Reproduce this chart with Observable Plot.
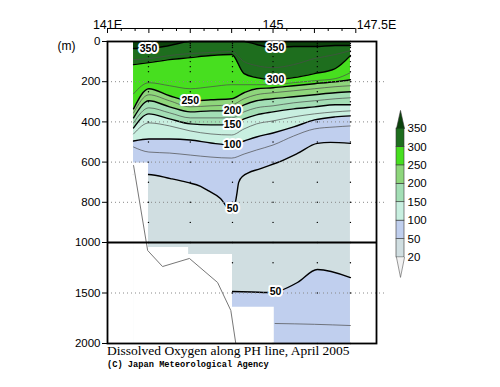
<!DOCTYPE html>
<html><head><meta charset="utf-8">
<script src="https://cdn.jsdelivr.net/npm/d3@7"></script>
<script src="https://cdn.jsdelivr.net/npm/@observablehq/plot@0.6"></script>
<style>
body{margin:0;background:#fff;}
#wrap{position:relative;width:500px;height:387px;overflow:hidden;background:#fff;}
#wrap svg{position:absolute;left:0;top:0;}
.title{position:absolute;left:107px;top:343px;font-family:"Liberation Serif",serif;font-size:13.5px;line-height:15px;white-space:nowrap;color:#000;}
.caption{position:absolute;left:107px;top:360px;font-family:"Liberation Mono",monospace;font-weight:bold;font-size:8.7px;line-height:11px;white-space:nowrap;color:#000;}
</style></head>
<body><div id="wrap"></div>
<script>
// ---- data ----
const levels = [20, 50, 100, 150, 200, 250, 300, 350];
// <20, 20-50, 50-100, 100-150, 150-200, 200-250, 250-300, 300-350, >350
const bandColors = ["#f2f2f2","#d0dee1","#c0cfee","#c8efe0","#a3deb5","#8ed67b","#47df1f","#1e6e1e","#0c420c"];

const sampleLon = [141.63,142.0,142.5,143.0,143.5,144.0,144.3,144.6,145.0,145.5,146.0,146.5,146.87];
const iso350 = [35,35,20,0,0,0,0,15,30,25,25,20,20];
const iso325 = [90,85,70,60,55,50,100,120,130,115,85,65,45];
const iso300 = [115,105,90,80,70,65,160,180,190,180,160,135,70];
const iso275 = [260,205,220,235,225,215,215,215,215,205,195,185,155];
const iso250 = [335,235,270,295,290,285,255,235,230,220,210,200,190];
const iso225 = [355,265,295,325,320,315,285,265,255,245,235,225,220];
const iso200 = [380,295,325,350,345,345,315,295,285,275,265,255,250];
const iso175 = [405,330,355,380,380,380,350,330,320,305,295,285,280];
const iso150 = [430,360,385,410,415,415,385,365,350,335,325,315,315];
const iso125 = [460,405,420,445,460,465,435,410,395,375,360,350,345];
const iso100 = [495,485,485,490,505,515,495,475,455,425,390,375,370];
const iso75  = [525,550,555,565,575,580,560,540,515,470,435,425,420];

const lon50 = [141.63,141.99,142.52,142.93,143.25,143.42,143.73,144.02,144.12,144.17,144.26,144.70,145.11,145.59,146.07,146.39,146.87];
const iso50 = [662,662,682,701,721,741,781,851,766,701,672,632,602,557,507,502,507];

const deepLon = [144.02,144.5,145.0,145.15,145.59,146.07,146.87];
const deep50 = [1485,1490,1495,1480,1396,1267,1347];
const deep75Lon = [145.05,146.0,146.87];
const deep75 = [1802,1810,1822];

// data coverage (bottom of observations, step)
const maskLon = [141.63,141.99,142.96,144.02,145.03,146.87];
const maskBottom = [605,1050,1120,1640,2000,2000];
const dataLonMin = 141.63, dataLonMax = 146.87;

// bottom topography
const topoLon = [141.63,141.97,142.33,142.98,143.66,143.98,144.10];
const topoDepth = [617,1079,1238,1158,1396,1673,2000];

// stations and standard depths
const stationLon = [141.99,143.0,144.02,145.0,146.07,146.87];
const stationBottom = [1050,1120,1640,2000,2000,2000];
const stdDepths = [0,10,20,30,50,75,100,125,150,200,250,300,400,500,600,700,800,900,1000,1200,1500,2000];

// contour labels
const labelLon = [141.99,145.06,145.06,143.0,144.02,144.02,144.02,144.02,145.06];
const labelDepth = [35,30,190,295,345,415,515,830,1490];
const labelText = ["350","350","300","250","200","150","100","50","50"];

// axes
const yTicks = [0,200,400,600,800,1000,1500,2000];
const gridDepths = [200,400,600,800,1500];
const topMajor = [141,142,143,144,145,146,147];
const topMinor = [141.333,141.667,142.333,142.667,143.333,143.667,144.333,144.667,145.333,145.667,146.333,146.667];
const topLabelLon = [141,145,147.5];
const topLabelText = ["141E","145","147.5E"];

// ---- build ----
const rows = (lons, ds) => lons.map((lon,i)=>({lon, depth: ds[i]}));
const curve = "monotone-x";
const paint = [
  [rows(lon50, iso50), bandColors[2]],
  [rows(sampleLon, iso100), bandColors[3]],
  [rows(sampleLon, iso150), bandColors[4]],
  [rows(sampleLon, iso200), bandColors[5]],
  [rows(sampleLon, iso250), bandColors[6]],
  [rows(sampleLon, iso300), bandColors[7]],
  [rows(sampleLon, iso350), bandColors[8]]
];
const thick = [rows(lon50, iso50), rows(sampleLon, iso100), rows(sampleLon, iso150), rows(sampleLon, iso200), rows(sampleLon, iso250), rows(sampleLon, iso300), rows(sampleLon, iso350), rows(deepLon, deep50)];
const thin = [rows(sampleLon, iso75), rows(sampleLon, iso125), rows(sampleLon, iso175), rows(sampleLon, iso225), rows(sampleLon, iso275), rows(sampleLon, iso325), rows(deep75Lon, deep75)];

const dots = [];
stationLon.forEach((lon,i)=>stdDepths.forEach(d=>{ if (d <= stationBottom[i]) dots.push({lon, depth:d}); }));

const marks = [
  Plot.rect([0], {x1: dataLonMin, x2: dataLonMax, y1: 0, y2: 2000, fill: bandColors[1]}),
  Plot.areaY(rows(deepLon, deep50), {x:"lon", y1:"depth", y2: 2000, fill: bandColors[2], curve}),
  ...paint.map(([d,c]) => Plot.areaY(d, {x:"lon", y1: 0, y2:"depth", fill: c, curve})),
  ...thin.map(d => Plot.line(d, {x:"lon", y:"depth", stroke:"#4a4a4a", strokeWidth:0.7, curve})),
  ...thick.map(d => Plot.line(d, {x:"lon", y:"depth", stroke:"#000", strokeWidth:1.4, curve})),
  Plot.areaY(rows(maskLon, maskBottom), {x:"lon", y1:"depth", y2: 2000, fill:"#fff", curve:"step-after"}),
  Plot.line(rows(topoLon, topoDepth), {x:"lon", y:"depth", stroke:"#777", strokeWidth:1}),
  Plot.ruleY(gridDepths, {x1: 141, x2: 147.72, stroke:"#888", strokeWidth:1, strokeDasharray:"1,3"}),
  Plot.dot(dots, {x:"lon", y:"depth", r:0.7, fill:"#000"}),
  Plot.ruleY([1000], {stroke:"#000", strokeWidth:1.8}),
  Plot.frame({stroke:"#000", strokeWidth:1.8}),
  Plot.text(labelText, {x:(d,i)=>labelLon[i], y:(d,i)=>labelDepth[i], text:d=>d, fill:"#000", stroke:"#fff", strokeWidth:4, fontSize:10.5, fontWeight:"bold"}),
  // top axis
  Plot.ruleY([0], {x1: 141, x2: 147, dy: -13, stroke:"#000", strokeWidth:1}),
  Plot.ruleX(topMajor, {insetBottom: 297, dy: -13, stroke:"#000"}),
  Plot.ruleX(topMinor, {insetBottom: 299, dy: -13, stroke:"#000"}),
  Plot.text(topLabelLon, {x: d=>d, text:(d,i)=>topLabelText[i], frameAnchor:"top", dy:-21, fontSize:12.5}),
  Plot.text(["(m)"], {frameAnchor:"top-left", dx:-41, text:d=>d, textAnchor:"middle", fontSize:12})
];

const chart = Plot.plot({
  width: 500, height: 387,
  marginLeft: 107, marginRight: 124, marginTop: 41, marginBottom: 44,
  style: {fontFamily: "Liberation Sans, Arial, sans-serif", fontSize: "11.5px", color:"#000", background:"transparent"},
  x: {type: "linear", domain: [141, 147.5], axis: null},
  y: {type: "linear", domain: [0, 1000, 2000], range: [41, 242, 343], ticks: yTicks, tickFormat: d => String(d), tickSize: 5, tickPadding: 2, label: null},
  marks
});

// legend
const topTri = [{x:0,y:7},{x:0.5,y:7.98},{x:1,y:7}];
const botTri = [{x:0,y:0},{x:0.5,y:-1.08},{x:1,y:0}];
const legend = Plot.plot({
  width: 500, height: 387, margin: 0,
  style: {fontFamily: "Liberation Sans, Arial, sans-serif", fontSize: "11.5px", color:"#000", background:"transparent"},
  x: {type: "linear", domain: [0, 1], range: [396, 404], axis: null},
  y: {type: "linear", domain: [0, 7], range: [257, 128], axis: null},
  marks: [
    Plot.rect(d3.range(7), {x1: 0, x2: 1, y1: i => i, y2: i => i + 1, fill: i => bandColors[i + 1], stroke: "#333", strokeWidth: 0.6}),
    Plot.line(topTri, {x:"x", y:"y", fill: bandColors[8], stroke:"#333", strokeWidth:0.6}),
    Plot.line(botTri, {x:"x", y:"y", fill: bandColors[0], stroke:"#555", strokeWidth:0.6}),
    Plot.text(levels, {x: 1, y: (d,i) => i, text: d => String(d), textAnchor: "start", dx: 3})
  ]
});

const wrap = document.getElementById("wrap");
wrap.appendChild(chart);
wrap.appendChild(legend);
const t = document.createElement("div"); t.className = "title"; t.textContent = "Dissolved Oxygen along PH line, April 2005"; wrap.appendChild(t);
const c = document.createElement("div"); c.className = "caption"; c.textContent = "(C) Japan Meteorological Agency"; wrap.appendChild(c);
</script>
</body></html>
